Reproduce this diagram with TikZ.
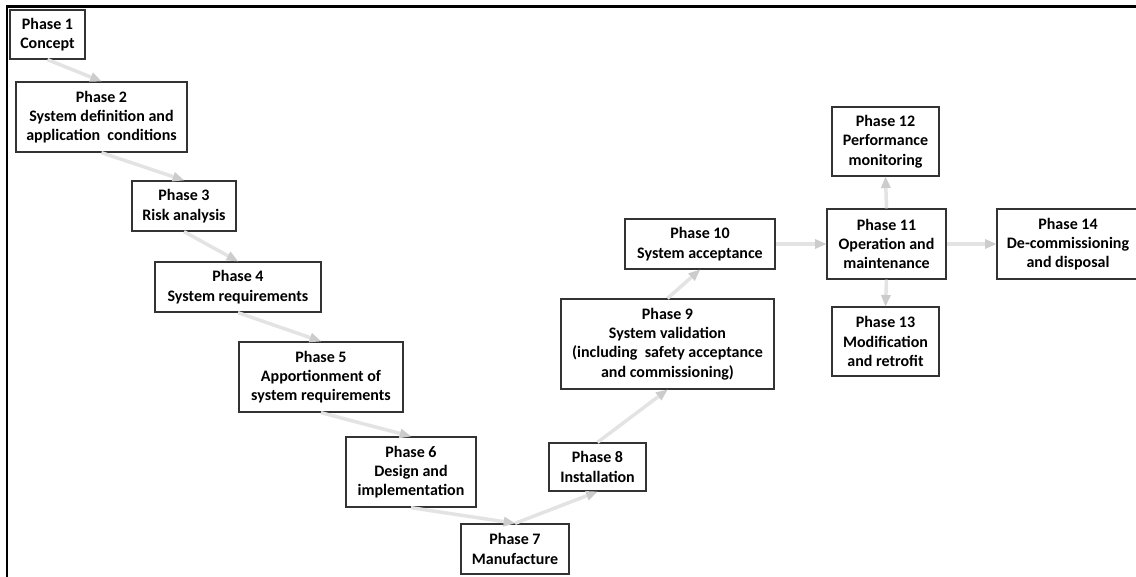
\documentclass[tikz,border=0pt]{standalone}
\usepackage{fontspec}
\setmainfont{Carlito}
\usetikzlibrary{arrows.meta}
\tikzset{
  phase/.style={draw=black!80, line width=1pt, fill=white, align=center,
    inner sep=0pt, font=\fontsize{12}{14.5}\selectfont\bfseries},
  sz/.style 2 args={minimum width=#1*0.75pt, minimum height=#2*0.75pt},
  flow/.style={draw=black!11, line width=2.6pt,
    -{Triangle[length=8.5pt,width=7.5pt,color=black!20,fill=black!20,line width=0pt]}}
}
\begin{document}
\begin{tikzpicture}[x=0.75pt,y=-0.75pt]
\useasboundingbox (0,0) rectangle (1136,577);
\fill[white] (0,0) rectangle (1136,577);
\clip (0,0) rectangle (1136,577);

% frame on the top and left sides
\draw[line width=2pt] (7,580) -- (7,6.5) -- (1140,6.5);

% phase boxes
\node[phase, sz={75}{49}]  (p1)  at (47.5,34.5)  {Phase 1\\Concept};
\node[phase, sz={171}{70}] (p2)  at (101.5,117)  {Phase 2\\System definition and\\application\ \ conditions};
\node[phase, sz={104}{50}] (p3)  at (184,206)    {Phase 3\\Risk analysis};
\node[phase, sz={166}{50}] (p4)  at (238,287)    {Phase 4\\System requirements};
\node[phase, sz={164}{70}] (p5)  at (321,377)    {Phase 5\\Apportionment of\\system requirements};
\node[phase, sz={130}{70}] (p6)  at (411,472)    {Phase 6\\Design and\\implementation};
\node[phase, sz={108}{50}] (p7)  at (515,549)    {Phase 7\\Manufacture};
\node[phase, sz={97}{48}]  (p8)  at (597.5,467)  {Phase 8\\Installation};
\node[phase, sz={213}{90}] (p9)  at (667.5,344)  {Phase 9\\System validation\\(including\ \ safety acceptance\\and commissioning)};
\node[phase, sz={150}{50}] (p10) at (700,244)    {Phase 10\\System acceptance};
\node[phase, sz={119}{70}] (p11) at (886.5,244)  {Phase 11\\Operation and\\maintenance};
\node[phase, sz={107}{69}] (p12) at (885.5,141.5){Phase 12\\Performance\\monitoring};
\node[phase, sz={107}{69}] (p13) at (885.5,341.5){Phase 13\\Modification\\and retrofit};
\node[phase, sz={142}{70}] (p14) at (1068,244)   {Phase 14\\De-commissioning\\and disposal};

% connectors
\foreach \a/\b in {p1/p2, p2/p3, p3/p4, p4/p5, p5/p6, p6/p7}
  \draw[flow] (\a.south) -- (\b.north);
\foreach \a/\b in {p7/p8, p8/p9, p9/p10}
  \draw[flow] (\a.north) -- (\b.south);
\draw[flow] (p10.east) -- (p11.west);
\draw[flow] (p11.east) -- (p14.west);
\draw[flow] (p11.north) -- (p12.south);
\draw[flow] (p11.south) -- (p13.north);
\end{tikzpicture}
\end{document}
